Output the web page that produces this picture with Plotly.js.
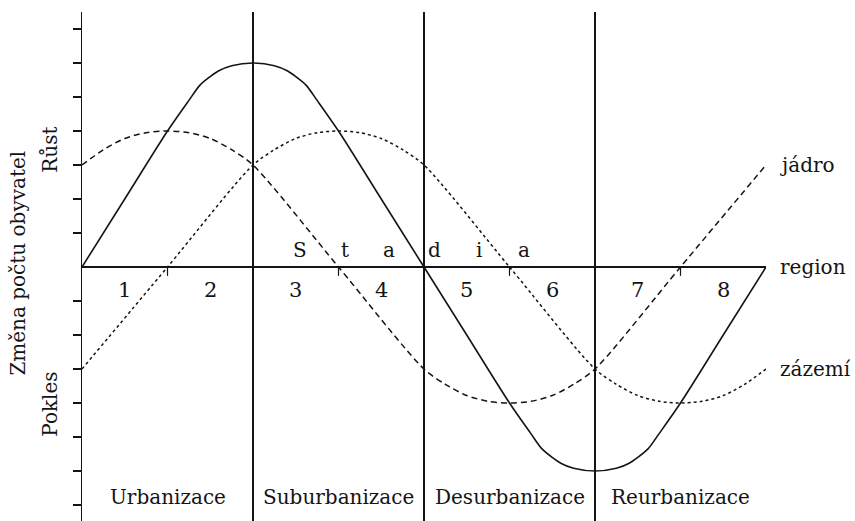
<!DOCTYPE html>
<html>
<head>
<meta charset="utf-8">
<script src="https://cdn.plot.ly/plotly-3.0.1.min.js"></script>
<style>html,body{margin:0;padding:0;background:#fff;}#chart{width:855px;height:521px;}</style>
</head>
<body>
<div id="chart"></div>
<script>
// ---- data ----
const regionX = [0,0.5,1,1.25,1.38,1.5,1.6,1.75,2,2.25,2.4,2.5,2.62,2.75,3,3.5,4,4.5,5,5.25,5.38,5.5,5.6,5.75,6,6.25,6.4,6.5,6.62,6.75,7,7.5,8];
const regionY = [0,2,4,4.9,5.35,5.6,5.77,5.92,6,5.92,5.77,5.6,5.35,4.9,4,2,0,-2,-4,-4.9,-5.35,-5.6,-5.77,-5.92,-6,-5.92,-5.77,-5.6,-5.35,-4.9,-4,-2,0];
const jadroX = [0,0.25,0.5,0.75,1,1.25,1.5,1.75,2,3,4,4.25,4.5,4.75,5,5.25,5.5,5.75,6,7,8];
const jadroY = [3,3.45,3.78,3.95,4,3.95,3.78,3.45,3,0,-3,-3.45,-3.78,-3.95,-4,-3.95,-3.78,-3.45,-3,0,3];
const zazemiX = [0,1,2,2.25,2.5,2.75,3,3.25,3.5,3.75,4,5,6,6.25,6.5,6.75,7,7.25,7.5,7.75,8];
const zazemiY = [-3,0,3,3.45,3.78,3.95,4,3.95,3.78,3.45,3,0,-3,-3.45,-3.78,-3.95,-4,-3.95,-3.78,-3.45,-3];
const stageNumbers = ['1','2','3','4','5','6','7','8'];
const phaseNames = ['Urbanizace','Suburbanizace','Desurbanizace','Reurbanizace'];
const stadiaLetters = ['S','t','a','d','i','a'];
const seriesLabels = ['jádro','region','zázemí'];
const crossTicks = [1,3,5,7];
const yTicks = [-7,-6,-5,-4,-3,-2,-1,1,2,3,4,5,6,7];
const phaseBounds = [2,4,6,8];

const INK = '#141414';
const FONT = 'DejaVu Serif, Liberation Serif, serif';

const traces = [
  {x: regionX, y: regionY, mode:'lines', line:{color:INK, width:1.6, shape:'spline', smoothing:0.8}, hoverinfo:'skip'},
  {x: jadroX, y: jadroY, mode:'lines', line:{color:INK, width:1.5, dash:'6px,4px', shape:'spline', smoothing:0.8}, hoverinfo:'skip'},
  {x: zazemiX, y: zazemiY, mode:'lines', line:{color:INK, width:1.5, dash:'3px,3px', shape:'spline', smoothing:0.8}, hoverinfo:'skip'}
];

const ann = [];
stageNumbers.forEach((t,i)=>ann.push({x:i+0.5, y:-0.68, xref:'x', yref:'y', text:t, showarrow:false, font:{family:FONT,size:21,color:INK}}));
phaseNames.forEach((t,i)=>ann.push({x:2*i+1, y:-6.76, xref:'x', yref:'y', text:t, showarrow:false, font:{family:FONT,size:20,color:INK}}));
stadiaLetters.forEach((t,i)=>ann.push({x:2.55+0.523*i, y:0.5, xref:'x', yref:'y', text:t, showarrow:false, font:{family:FONT,size:20,color:INK}}));
const ends = [jadroY[jadroY.length-1], regionY[regionY.length-1], zazemiY[zazemiY.length-1]];
seriesLabels.forEach((t,i)=>ann.push({x:8, y:ends[i], xref:'x', yref:'y', xanchor:'left', xshift:12, text:t, showarrow:false, font:{family:FONT,size:20,color:INK}}));
ann.push({x:0, y:3.45, xref:'paper', yref:'y', xanchor:'center', yanchor:'middle', xshift:-32, text:'Růst', textangle:-90, showarrow:false, font:{family:FONT,size:20,color:INK}});
ann.push({x:0, y:-4.05, xref:'paper', yref:'y', xanchor:'center', yanchor:'middle', xshift:-32, text:'Pokles', textangle:-90, showarrow:false, font:{family:FONT,size:20,color:INK}});
ann.push({x:0, y:0.1, xref:'paper', yref:'y', xanchor:'center', yanchor:'middle', xshift:-64, text:'Změna počtu obyvatel', textangle:-90, showarrow:false, font:{family:FONT,size:20,color:INK}});

const shapes = crossTicks.map(t=>({type:'line', xref:'x', yref:'y', x0:t, x1:t, y0:0, y1:-0.26, line:{color:INK, width:1.2}}));

const layout = {
  width:855, height:521,
  margin:{l:82, r:89, t:12, b:0},
  paper_bgcolor:'#fff', plot_bgcolor:'#fff',
  showlegend:false,
  xaxis:{range:[0,8], tickvals:phaseBounds, showgrid:true, gridcolor:INK, gridwidth:1.5, ticks:'', showticklabels:false, zeroline:false, showline:false, fixedrange:true},
  yaxis:{range:[-7.47,7.5], tickvals:yTicks, ticks:'outside', ticklen:8, tickwidth:1.4, tickcolor:INK, showticklabels:false, showgrid:false, showline:true, linecolor:INK, linewidth:1.5, zeroline:true, zerolinecolor:INK, zerolinewidth:1.6, fixedrange:true},
  annotations: ann,
  shapes: shapes
};
Plotly.newPlot('chart', traces, layout, {displayModeBar:false, staticPlot:true});
</script>
</body>
</html>
